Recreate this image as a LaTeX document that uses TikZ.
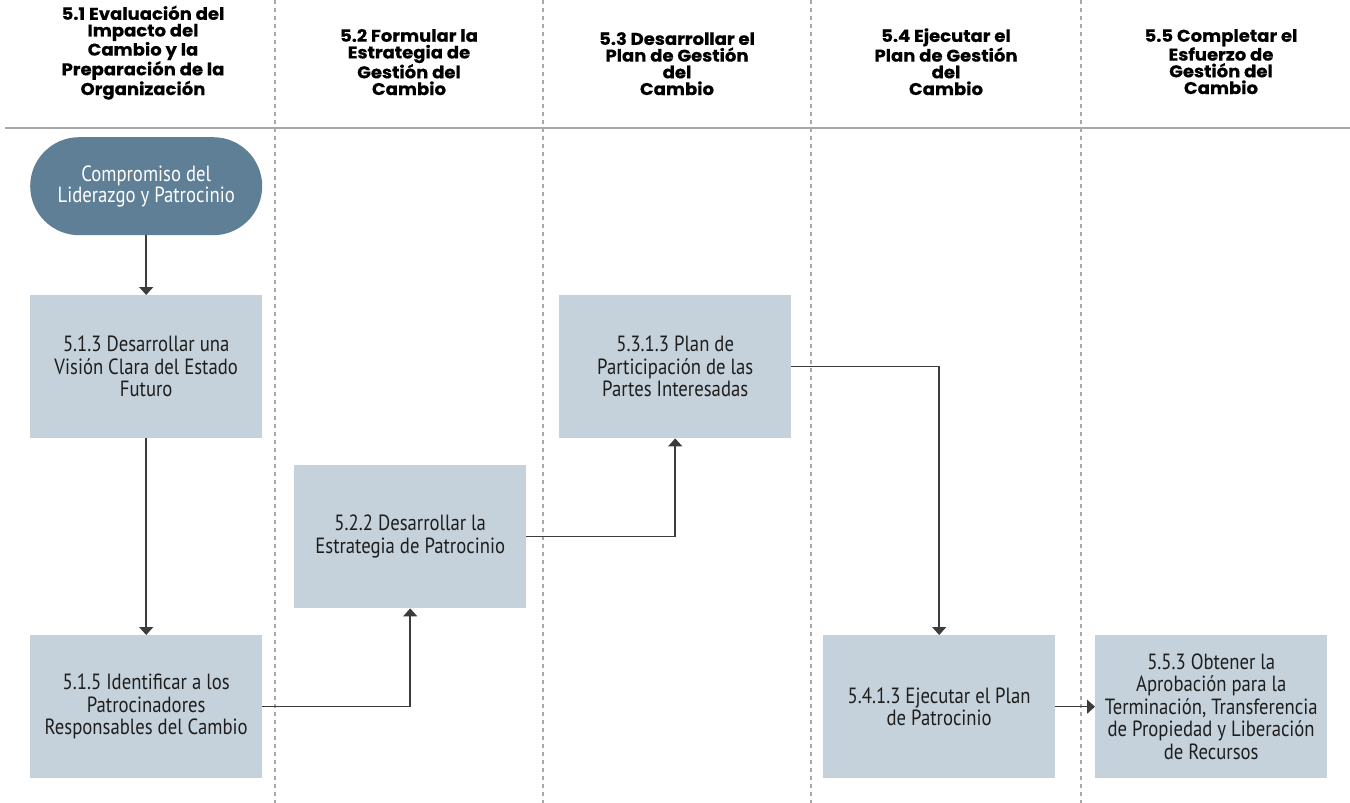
\documentclass[tikz,border=0pt]{standalone}
\usepackage{fontspec}
\setmainfont{PT Sans}[FakeStretch=0.85]
\newfontfamily\headfont{Poppins}[FakeStretch=1.06,BoldFeatures={FakeBold=0.4}]
\usetikzlibrary{arrows.meta}
\definecolor{boxfill}{HTML}{C5D2DB}
\definecolor{startfill}{HTML}{5E7F96}
\definecolor{linegray}{HTML}{A8A8A8}
\definecolor{arrowgray}{HTML}{3C3C3C}
\definecolor{txt}{HTML}{1E1E1E}
\begin{document}
\begin{tikzpicture}[x=1pt,y=-1pt,
  stepbox/.style={fill=boxfill,draw=none,minimum width=232pt,minimum height=143pt,
    align=center,text=txt,font=\fontsize{22}{22.5}\selectfont,inner sep=0pt,anchor=north west},
  startbox/.style={rectangle,rounded corners=49pt,fill=startfill,draw=none,minimum width=232pt,minimum height=98pt,
    align=center,text=white,font=\fontsize{22}{21}\selectfont,inner sep=0pt,anchor=north west},
  head/.style={align=center,text=black,font=\headfont\bfseries\fontsize{17}{16.7}\selectfont,inner sep=0pt,anchor=base},
  flow/.style={draw=arrowgray,line width=1.5pt,-{Triangle[length=8pt,width=14pt]}},
  lane/.style={draw=linegray,line width=1.3pt,dash pattern=on 4pt off 4pt}
]
\useasboundingbox (0,0) rectangle (1350,803);
\fill[white] (0,0) rectangle (1350,803);
% lanes
\draw[lane] (275,0) -- (275,803);
\draw[lane] (543,0) -- (543,803);
\draw[lane] (811,0) -- (811,803);
\draw[lane] (1081,0) -- (1081,803);
\draw[draw=linegray,line width=2pt] (5,128) -- (1350,128);
% headers (anchored at the baseline of the last line)
\node[head] (h1) at (143,95) {5.1 Evaluación del\\Impacto del\\Cambio y la\\Preparación de la\\Organización};
\node[head] (h2) at (409,95) {5.2 Formular la\\Estrategia de\\Gestión del\\Cambio};
\node[head] (h3) at (677,95) {5.3 Desarrollar el\\Plan de Gestión\\del\\Cambio};
\node[head] (h4) at (946,95) {5.4 Ejecutar el\\Plan de Gestión\\del\\Cambio};
\node[head] (h5) at (1221,94) {5.5 Completar el\\Esfuerzo de\\Gestión del\\Cambio};
% nodes
\node[startbox] (start) at (30,137) {Compromiso del\\Liderazgo y Patrocinio};
\node[stepbox] (a) at (30,295) {5.1.3 Desarrollar una\\Visión Clara del Estado\\Futuro};
\node[stepbox] (b) at (30,635) {5.1.5 Identificar a los\\Patrocinadores\\Responsables del Cambio};
\node[stepbox] (c) at (294,465) {5.2.2 Desarrollar la\\Estrategia de Patrocinio};
\node[stepbox] (d) at (559,295) {5.3.1.3 Plan de\\Participación de las\\Partes Interesadas};
\node[stepbox] (e) at (823,635) {5.4.1.3 Ejecutar el Plan\\de Patrocinio};
\node[stepbox] (f) at (1095,635) {5.5.3 Obtener la\\Aprobación para la\\Terminación, Transferencia\\de Propiedad y Liberación\\de Recursos};
% connectors
\draw[flow] (start.south) -- (a.north);
\draw[flow] (a.south) -- (b.north);
\draw[flow] (b.east) -| (c.south);
\draw[flow] (c.east) -| (d.south);
\draw[flow] (d.east) -| (e.north);
\draw[flow] (e.east) -- (f.west);
\end{tikzpicture}
\end{document}
